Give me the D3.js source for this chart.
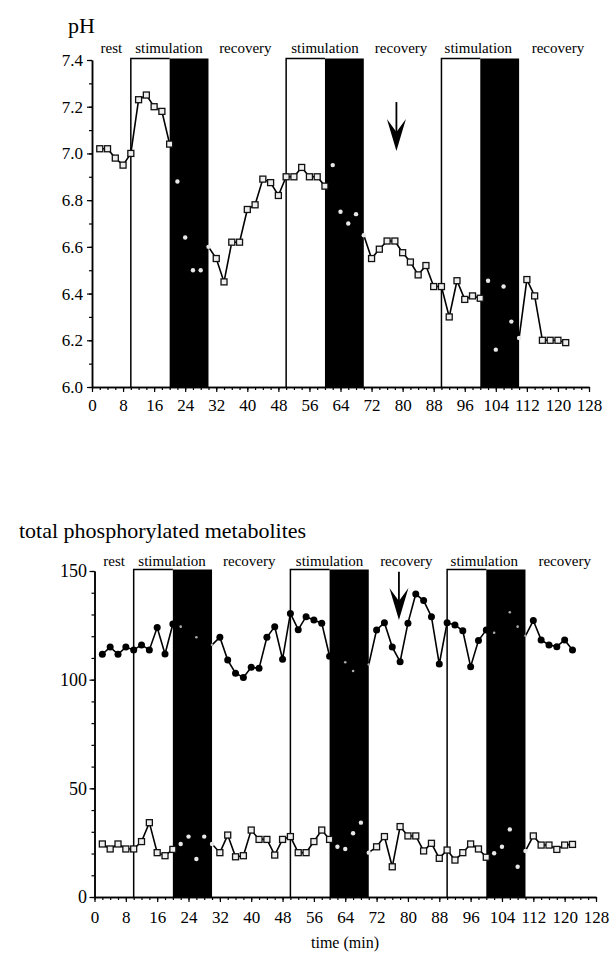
<!DOCTYPE html>
<html>
<head>
<meta charset="utf-8">
<title>pH and phosphorylated metabolites</title>
<style>
  body { margin: 0; background: #fff; }
  svg { display: block; background: #fff; font-family: "Liberation Serif", "Times New Roman", serif; }
  .domain { stroke: #000; stroke-width: 1.5; }
  .tick line { stroke: #000; stroke-width: 1.2; }
</style>
</head>
<body>
<svg id="canvas" width="614" height="964"></svg>
<script src="https://d3js.org/d3.v7.min.js"></script>
<script>
// sampling times (min)
const times = [2, 4, 6, 8, 10, 12, 14, 16, 18, 20, 22, 24, 26, 28, 30, 32, 34, 36, 38, 40,
  42, 44, 46, 48, 50, 52, 54, 56, 58, 60, 62, 64, 66, 68, 70, 72, 74, 76, 78, 80,
  82, 84, 86, 88, 90, 92, 94, 96, 98, 100, 102, 104, 106, 108, 110, 112, 114, 116, 118, 120, 122];

// upper panel: pH
const phValues = [7.02, 7.02, 6.98, 6.95, 7.00, 7.23, 7.25, 7.20, 7.18, 7.04,
  6.88, 6.64, 6.50, 6.50,
  6.60, 6.55, 6.45, 6.62, 6.62, 6.76, 6.78, 6.89, 6.875, 6.82, 6.90, 6.90, 6.94, 6.90, 6.90, 6.86,
  6.95, 6.75, 6.70, 6.74,
  6.65, 6.55, 6.59, 6.625, 6.625, 6.575, 6.535, 6.48, 6.52, 6.43, 6.43, 6.30, 6.455, 6.375, 6.39, 6.38,
  6.455, 6.16, 6.43, 6.28,
  6.21, 6.46, 6.39, 6.20, 6.20, 6.20, 6.19];

// lower panel: total phosphorylated metabolites, two traces
const metabHigh = [111.7, 115, 111.7, 115, 113.7, 116, 113.7, 124, 111.8, 125.6,
  124.4, null, 119.5, null,
  116, 119.5, 109, 103, 101, 105.7, 105.2, 119.5, 124.4, 109.4, 130.5, 123, 129, 127.5, 126, 110.8,
  null, 108, 104, null,
  107, 122.9, 126.2, 115, 108.3, 126, 139.4, 136.4, 129, 107.2, 126.2, 125.2, 122.5, 106, 118, 122.9,
  121.6, null, 131, 124.4,
  120.2, 127.2, 118.3, 116, 115.2, 118.3, 113.7];

const metabLow = [24.4, 22.1, 24.4, 22.1, 22.1, 25.5, 34.2, 20.4, 19, 21.9,
  24.4, 27.8, 17.5, 27.8,
  24.4, 20.4, 28.5, 18.5, 19, 30.8, 26.5, 26.5, 19.3, 26.5, 27.8, 20.4, 20.4, 25.5, 30.8, 26.5,
  23.1, 22.1, 29.3, 34.2,
  20.4, 23.1, 27.8, 13.9, 32.4, 28.1, 28.1, 21.2, 24.7, 17.8, 21.6, 17, 20.4, 24.4, 22.1, 18.3,
  20.1, 23.1, 31.1, 13.9,
  21.2, 28.1, 23.9, 23.9, 21.9, 23.9, 24.2];

// stimulation blocks: [open start, black start, end]
const stimBlocks = [[10, 20, 30], [50, 60, 70], [90, 100, 110]];
const phaseLabels = ["rest", "stimulation", "recovery", "stimulation", "recovery", "stimulation", "recovery"];
const phaseCentres = [5, 19.8, 39.5, 60, 79.6, 99.5, 120];

const timeTicks = [0, 8, 16, 24, 32, 40, 48, 56, 64, 72, 80, 88, 96, 104, 112, 120, 128];
const phTicks = [6.0, 6.2, 6.4, 6.6, 6.8, 7.0, 7.2, 7.4];
const metabTicks = [0, 50, 100, 150];

// arrows: [time, tail value, tip value]
const phArrow = [78.4, 7.22, 7.01];
const metabArrow = [77.7, 149.6, 127.5];

const svg = d3.select("#canvas");

function inBlack(t) {
  return stimBlocks.some(b => t > b[1] && t < b[2]);
}
function onBlack(t) {
  return stimBlocks.some(b => t > b[1] && t <= b[2]);
}

function drawPanel(cfg) {
  const x = d3.scaleLinear().domain([0, 128]).range(cfg.xRange);
  const y = d3.scaleLinear().domain(cfg.yDomain).range(cfg.yRange);
  const yBot = cfg.yRange[0], yTop = cfg.yRange[1] - 1.5;
  const g = svg.append("g");

  // stimulation blocks
  stimBlocks.forEach(b => {
    g.append("rect")
      .attr("x", x(b[1])).attr("y", yTop)
      .attr("width", x(b[2]) - x(b[1])).attr("height", yBot - yTop)
      .attr("fill", "#000");
    g.append("path")
      .attr("d", "M" + x(b[0]) + "," + yBot + "V" + yTop + "H" + x(b[1]))
      .attr("fill", "none").attr("stroke", "#000").attr("stroke-width", 1.5);
  });

  // phase labels
  g.selectAll("text.phase").data(phaseLabels).join("text")
    .attr("class", "phase")
    .attr("x", (d, i) => x(phaseCentres[i]))
    .attr("y", cfg.phaseY)
    .attr("text-anchor", "middle")
    .attr("font-size", 15)
    .text(d => d);

  // axes: minor ticks then major ticks with labels
  g.append("g").attr("transform", "translate(0," + yBot + ")")
    .call(d3.axisBottom(x).tickValues(d3.range(0, 129, 2)).tickSize(3).tickSizeOuter(0).tickFormat(""));
  const xa = g.append("g").attr("transform", "translate(0," + yBot + ")")
    .call(d3.axisBottom(x).tickValues(timeTicks).tickSize(5).tickSizeOuter(0).tickPadding(cfg.xPad));
  xa.selectAll("text").attr("font-size", 17).attr("font-family", "Liberation Serif").attr("fill", "#000");

  g.append("g").attr("transform", "translate(" + cfg.xRange[0] + ",0)")
    .call(d3.axisLeft(y).tickValues(cfg.minorTicks).tickSize(3).tickSizeOuter(0).tickFormat(""));
  const ya = g.append("g").attr("transform", "translate(" + cfg.xRange[0] + ",0)")
    .call(d3.axisLeft(y).tickValues(cfg.ticks).tickSize(5).tickSizeOuter(0)
      .tickPadding(cfg.yPad).tickFormat(cfg.fmt));
  ya.selectAll("text").attr("font-size", cfg.yFont).attr("font-family", "Liberation Serif").attr("fill", "#000");

  // series
  cfg.series.forEach(s => {
    const pts = times.map((t, i) => ({ t: t, v: s.values[i] })).filter(d => d.v != null);
    const line = d3.line()
      .defined(d => !inBlack(d.t))
      .x(d => x(d.t)).y(d => y(d.v));
    g.append("path").datum(pts)
      .attr("d", line)
      .attr("fill", "none").attr("stroke", "#000").attr("stroke-width", 1.6);

    pts.forEach(d => {
      if (onBlack(d.t)) {
        g.append("circle").attr("cx", x(d.t)).attr("cy", y(d.v))
          .attr("r", s.marker === "circle" ? 1.3 : 2.2)
          .attr("fill", s.marker === "circle" ? "#aaa" : "#e8e8e8");
      } else if (s.marker === "square") {
        g.append("rect").attr("x", x(d.t) - 3).attr("y", y(d.v) - 3)
          .attr("width", 6).attr("height", 6)
          .attr("fill", "#eee").attr("stroke", "#111").attr("stroke-width", 1.3);
      } else {
        g.append("circle").attr("cx", x(d.t)).attr("cy", y(d.v))
          .attr("r", 3.5).attr("fill", "#000");
      }
    });
  });

  // arrow
  const a = cfg.arrow;
  const ax = x(a[0]), ay0 = y(a[1]), ay1 = y(a[2]);
  g.append("line").attr("x1", ax).attr("x2", ax).attr("y1", ay0).attr("y2", ay1 - 10)
    .attr("stroke", "#000").attr("stroke-width", 1.8);
  g.append("path")
    .attr("d", "M" + ax + "," + ay1 + "L" + (ax - 9.5) + "," + (ay1 - 32) +
      "L" + ax + "," + (ay1 - 19) + "L" + (ax + 9.5) + "," + (ay1 - 32) + "Z")
    .attr("fill", "#000");

  // title
  g.append("text").attr("x", cfg.titleX).attr("y", cfg.titleY)
    .attr("font-size", 22).text(cfg.title);
}

drawPanel({
  xRange: [92, 589], yDomain: [6.0, 7.4], yRange: [387, 60],
  ticks: phTicks, minorTicks: d3.range(60, 75, 1).map(v => v / 10),
  fmt: d3.format(".1f"), yPad: 4, yFont: 17, xPad: 7,
  phaseY: 53,
  series: [{ values: phValues, marker: "square" }],
  arrow: phArrow,
  title: "pH", titleX: 68, titleY: 33
});

drawPanel({
  xRange: [94.5, 596], yDomain: [0, 150], yRange: [897, 571],
  ticks: metabTicks, minorTicks: d3.range(0, 151, 10),
  fmt: d3.format("d"), yPad: 2.5, yFont: 18, xPad: 9,
  phaseY: 566,
  series: [{ values: metabHigh, marker: "circle" }, { values: metabLow, marker: "square" }],
  arrow: metabArrow,
  title: "total phosphorylated metabolites", titleX: 19, titleY: 538
});

svg.append("text")
  .attr("x", 345).attr("y", 948)
  .attr("text-anchor", "middle")
  .attr("font-size", 16)
  .text("time (min)");
</script>
</body>
</html>
